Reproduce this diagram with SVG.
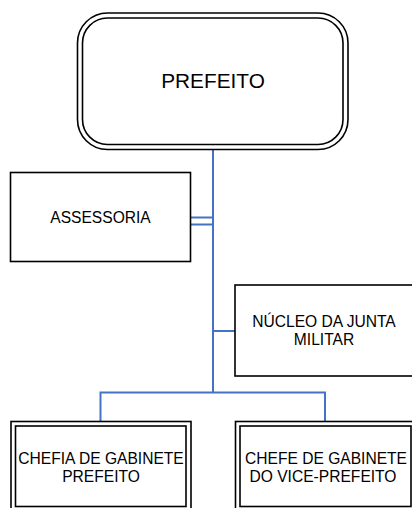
<svg xmlns="http://www.w3.org/2000/svg" width="412" height="508" viewBox="0 0 412 508">
<style>
  .box{fill:#fff;stroke:#000;stroke-width:1.6}
  .dbl{fill:none;stroke:#000;stroke-width:1.6}
  .lbl{font-family:"Liberation Sans",Arial,Helvetica,sans-serif;font-size:15.6px;fill:#000;text-anchor:middle}
  .big{font-size:20.8px}
  .conn{fill:none;stroke:#4472C4;stroke-width:2}
</style>
<rect width="412" height="508" fill="#fff"/>
<g id="connectors">
  <path class="conn" d="M213 149.5 V393.5 M100.5 392.5 H325 M100.5 391.5 V421.5 M325 391.5 V421.5"/>
  <path class="conn" d="M190 217.5 H213 M188 224.5 H213"/>
  <path class="conn" d="M213 331 H235"/>
</g>
<g id="prefeito">
  <rect class="dbl" x="77.5" y="13" width="270.5" height="136.5" rx="30"/>
  <rect class="dbl" x="82.5" y="18" width="260.5" height="126.5" rx="25"/>
  <text class="lbl big" x="213" y="88">PREFEITO</text>
</g>
<g id="assessoria">
  <rect class="box" x="10.5" y="172.5" width="180" height="89"/>
  <text class="lbl" x="100.5" y="222.7">ASSESSORIA</text>
</g>
<g id="nucleo">
  <rect class="box" x="235" y="285" width="180" height="91"/>
  <text class="lbl" x="324" y="327.3">NÚCLEO DA JUNTA</text>
  <text class="lbl" x="324" y="345.3">MILITAR</text>
</g>
<g id="chefia-prefeito">
  <rect class="dbl" x="11" y="421.5" width="180" height="95"/>
  <rect class="dbl" x="15.5" y="426" width="170.5" height="80.5"/>
  <text class="lbl" x="101" y="464">CHEFIA DE GABINETE</text>
  <text class="lbl" x="101" y="482.3">PREFEITO</text>
</g>
<g id="chefe-vice">
  <rect class="dbl" x="235.5" y="421.5" width="180" height="95"/>
  <rect class="dbl" x="240" y="426" width="171" height="80.5"/>
  <text class="lbl" x="326" y="464">CHEFE DE GABINETE</text>
  <text class="lbl" x="323" y="482.3">DO VICE-PREFEITO</text>
</g>
</svg>
